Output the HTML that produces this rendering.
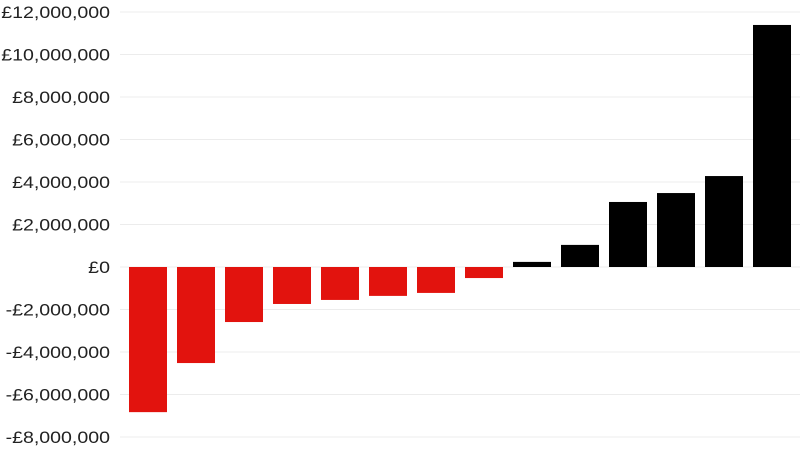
<!DOCTYPE html>
<html><head><meta charset="utf-8"><style>
html,body{margin:0;padding:0;background:#fff;}
svg{display:block;font-family:"Liberation Sans",sans-serif;}
</style></head><body>
<svg id="chart" width="800" height="450"></svg>
<script>
const categories = ["c1","c2","c3","c4","c5","c6","c7","c8","c9","c10","c11","c12","c13","c14"];
const values = [-6830000,-4520000,-2590000,-1740000,-1550000,-1360000,-1220000,-520000,240000,1040000,3060000,3480000,4280000,11390000];
const ticks = [-8000000,-6000000,-4000000,-2000000,0,2000000,4000000,6000000,8000000,10000000,12000000];
const NS="http://www.w3.org/2000/svg";
const svg=document.getElementById('chart');
const y0=267, pxPer=42.5/2000000;
function y(v){return y0 - v*pxPer;}
const bandStart=124, band=48, barW=38;
function x(i){return bandStart + i*band + 5;}
function fmt(v){const s=Math.abs(v).toLocaleString('en-GB');return (v<0?'-':'')+'£'+s;}
ticks.forEach(t=>{
  const l=document.createElementNS(NS,'line');
  l.setAttribute('x1',120);l.setAttribute('x2',800);
  l.setAttribute('y1',y(t));l.setAttribute('y2',y(t));
  l.setAttribute('stroke','#ececec');l.setAttribute('stroke-width','1');
  
  
  svg.appendChild(l);
  const tx=document.createElementNS(NS,'text');
  tx.setAttribute('x',110);tx.setAttribute('y',y(t)+6);
  tx.setAttribute('text-anchor','end');tx.setAttribute('font-size','17');tx.setAttribute('fill','#222');
  tx.textContent=fmt(t);
  
  
  svg.appendChild(tx);
  const w=tx.getComputedTextLength();
  tx.setAttribute('textLength',(w*1.15).toFixed(1));
  tx.setAttribute('lengthAdjust','spacingAndGlyphs');
});
values.forEach((v,i)=>{
  const r=document.createElementNS(NS,'rect');
  r.setAttribute('x',x(i));r.setAttribute('width',barW);
  r.setAttribute('y',Math.min(y(v),y0));r.setAttribute('height',Math.abs(y(v)-y0));
  r.setAttribute('fill',v<0?'#e2130e':'#000');
  
  
  svg.appendChild(r);
});
</script>
</body></html>
